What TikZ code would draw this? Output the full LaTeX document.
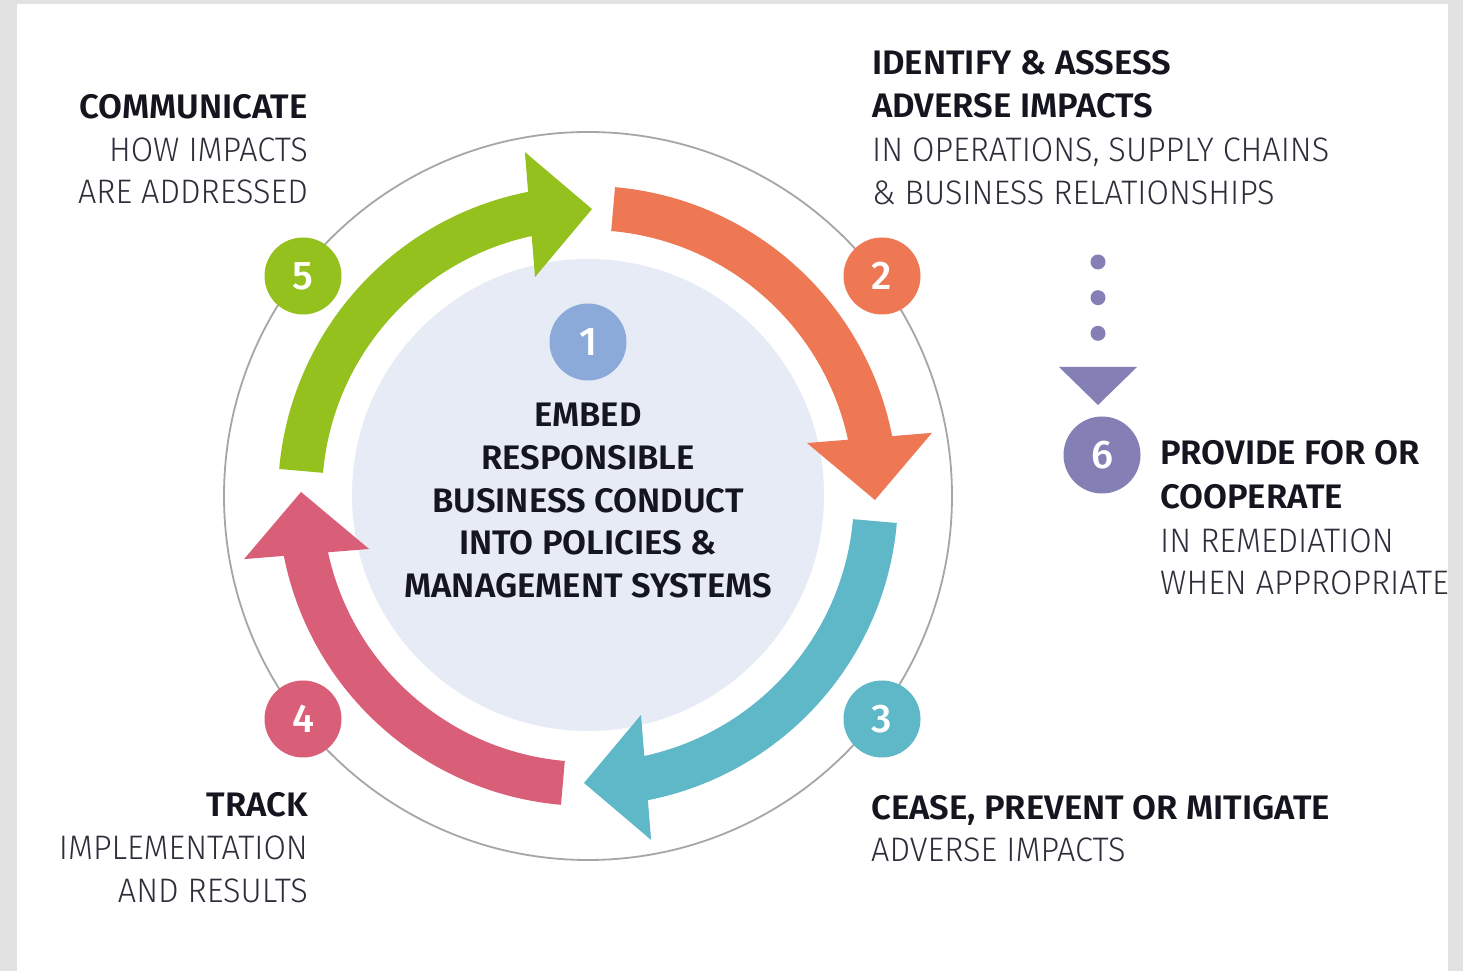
\documentclass[tikz,border=0pt]{standalone}
\usepackage{fontspec}
\newfontfamily\fb{Fira Sans SemiBold}[FakeStretch=1.02]
\newfontfamily\fl{Fira Sans Light}[FakeStretch=0.955]
\newfontfamily\fr{Fira Sans Medium}
\definecolor{bggray}{HTML}{E2E2E2}
\definecolor{ringgray}{HTML}{A6A6A6}
\definecolor{innerblue}{HTML}{E6EBF6}
\definecolor{greenA}{HTML}{95C11F}
\definecolor{orangeA}{HTML}{EE7853}
\definecolor{tealA}{HTML}{5FB8C8}
\definecolor{pinkA}{HTML}{D95E78}
\definecolor{blueA}{HTML}{8BAAD9}
\definecolor{purpleA}{HTML}{8480B5}
\definecolor{textdark}{HTML}{15151F}
\definecolor{textlight}{HTML}{2E2E3A}
\begin{document}
\begin{tikzpicture}[x=1pt,y=1pt,
  bt/.style={font=\fb\fontsize{34}{40}\selectfont, text=textdark, inner sep=0pt},
  lt/.style={font=\fl\fontsize{34}{40}\selectfont, text=textlight, inner sep=0pt},
  badge/.style={circle, minimum size=77pt, inner sep=0pt, text=white, font=\fr\fontsize{40}{40}\selectfont}]
\fill[bggray] (0,0) rectangle (1463,971);
\fill[white] (17,0) rectangle (1448,967);
\useasboundingbox (0,0) rectangle (1463,971);
\coordinate (C) at (588,475);
\draw[ringgray, line width=1.8pt] (C) circle[radius=364];
\fill[innerblue] (588,476) circle[radius=236];
\foreach \col/\rot in {orangeA/0, tealA/-90, pinkA/-180, greenA/-270}{
  \begin{scope}[shift={(C)}, rotate=\rot]
    \fill[\col] (85:310) arc[start angle=85, end angle=11, radius=310] -- (11:266) arc[start angle=11, end angle=85, radius=266] -- cycle;
    \fill[\col] (13.6:225.3) -- (10.4:349.7) -- (-0.8:287) -- cycle;
  \end{scope}
}
\node[badge, fill=blueA] (b1) at (588,629) {1};
\node[badge, fill=orangeA] (b2) at (882,695) {2};
\node[badge, fill=tealA] (b3) at (882,252) {3};
\node[badge, fill=pinkA] (b4) at (303,252) {4};
\node[badge, fill=greenA] (b5) at (303,695) {5};
\node[badge, fill=purpleA] (b6) at (1102,516) {6};
\coordinate (d0) at (1098,709);
\coordinate (d1) at (1098,602);
\draw[purpleA, line width=15pt, line cap=round, dash pattern=on 0pt off 35.67pt] (d0) -- (d1);
\fill[purpleA] (1059,604) -- (1137,604) -- (1098,566) -- cycle;
% texts
\node[bt, anchor=base east] (t5a) at (308,852) {COMMUNICATE};
\node[lt, anchor=base east] (t5b) at (308,809) {HOW IMPACTS};
\node[lt, anchor=base east] (t5c) at (308,767) {ARE ADDRESSED};
\node[bt, anchor=base west] (t2a) at (872,896) {IDENTIFY \& ASSESS};
\node[bt, anchor=base west] (t2b) at (872,853) {ADVERSE IMPACTS};
\node[lt, anchor=base west] (t2c) at (872,809) {IN OPERATIONS, SUPPLY CHAINS};
\node[lt, anchor=base west] (t2d) at (872,766) {\& BUSINESS RELATIONSHIPS};
\node[bt, anchor=base] (t1a) at (588,544) {EMBED};
\node[bt, anchor=base] (t1b) at (588,501) {RESPONSIBLE};
\node[bt, anchor=base] (t1c) at (588,458) {BUSINESS CONDUCT};
\node[bt, anchor=base] (t1d) at (588,416) {INTO POLICIES \&};
\node[bt, anchor=base] (t1e) at (588,373) {MANAGEMENT SYSTEMS};
\node[bt, anchor=base east] (t4a) at (308,154) {TRACK};
\node[lt, anchor=base east] (t4b) at (308,111) {IMPLEMENTATION};
\node[lt, anchor=base east] (t4c) at (308,68) {AND RESULTS};
\node[bt, anchor=base west] (t3a) at (871,151) {CEASE, PREVENT OR MITIGATE};
\node[lt, anchor=base west] (t3b) at (871,109) {ADVERSE IMPACTS};
\node[bt, anchor=base west] (t6a) at (1160,506) {PROVIDE FOR OR};
\node[bt, anchor=base west] (t6b) at (1160,462) {COOPERATE};
\node[lt, anchor=base west] (t6c) at (1160,418) {IN REMEDIATION};
\node[lt, anchor=base west] (t6d) at (1160,376) {WHEN APPROPRIATE};
\end{tikzpicture}
\end{document}
